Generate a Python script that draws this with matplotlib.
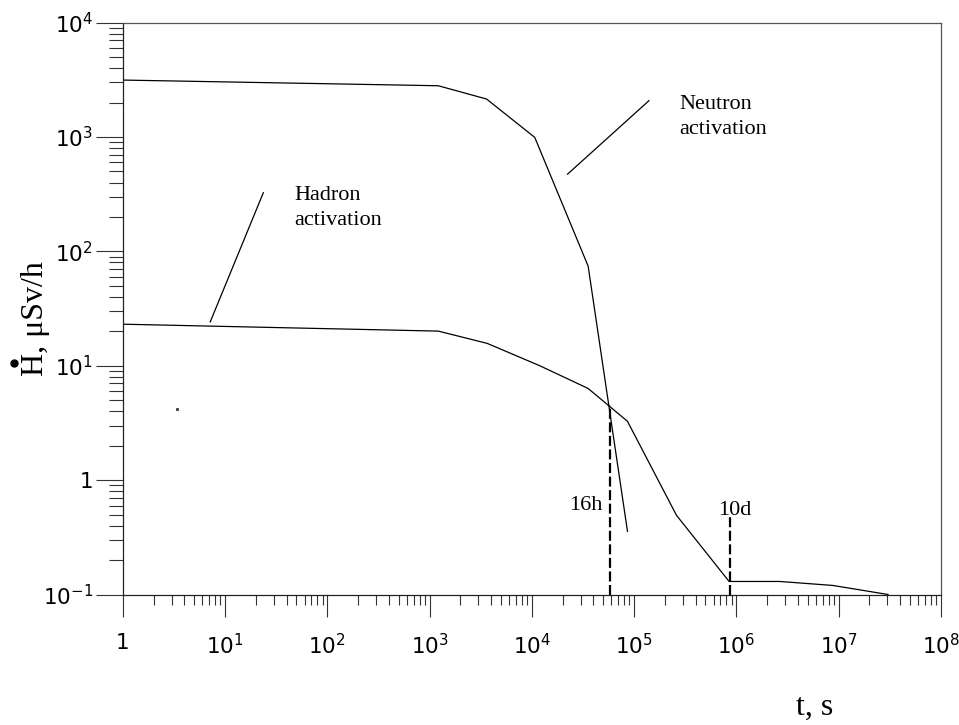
import matplotlib
matplotlib.use("Agg")
import matplotlib.pyplot as plt
from matplotlib.ticker import LogLocator, FixedLocator, FixedFormatter, NullFormatter

# neutron activation curve
t_neutron = [1, 1217, 3615, 10700, 35600, 86300]
h_neutron = [3150, 2810, 2150, 993, 74.3, 0.357]

# hadron activation curve
t_hadron = [1, 1217, 3665, 12000, 35600, 86300, 260000, 851000, 2660000, 8800000, 30500000]
h_hadron = [23.1, 20.1, 15.7, 10.0, 6.33, 3.27, 0.493, 0.130, 0.130, 0.120, 0.100]

# marker lines: 16 hours and 10 days
t_16h = 57600
h_16h_top = 4.52
t_10d = 864000
h_10d_top = 0.49

x_ticks = [1, 1e1, 1e2, 1e3, 1e4, 1e5, 1e6, 1e7, 1e8]
x_labels = ['1', '$\\mathregular{10^{1}}$', '$\\mathregular{10^{2}}$', '$\\mathregular{10^{3}}$',
            '$\\mathregular{10^{4}}$', '$\\mathregular{10^{5}}$', '$\\mathregular{10^{6}}$',
            '$\\mathregular{10^{7}}$', '$\\mathregular{10^{8}}$']
y_ticks = [1e-1, 1, 1e1, 1e2, 1e3, 1e4]
y_labels = ['$\\mathregular{10^{-1}}$', '1', '$\\mathregular{10^{1}}$', '$\\mathregular{10^{2}}$',
            '$\\mathregular{10^{3}}$', '$\\mathregular{10^{4}}$']

serif = ['Liberation Serif', 'DejaVu Serif']

fig = plt.figure(figsize=(9.59, 7.25), dpi=100)
ax = fig.add_axes([0.128, 0.180, 0.853, 0.7887])

ax.plot(t_neutron, h_neutron, color='black', lw=0.9)
ax.plot(t_hadron, h_hadron, color='black', lw=0.9)

dash = (0, (4.5, 1.6))
ax.plot([t_16h, t_16h], [0.1, h_16h_top], color='black', lw=1.6, linestyle=dash)
ax.plot([t_10d, t_10d], [0.1, h_10d_top], color='black', lw=1.6, linestyle=dash)

ax.text(48900, 0.604, '16h', family=serif, fontsize=16, ha='right', va='center')
ax.text(9.7e5, 0.545, '10d', family=serif, fontsize=16, ha='center', va='center')

# leader lines and labels
ax.plot([22400, 1.4e5], [474, 2080], color='black', lw=0.9)
ax.text(2.76e5, 1507, 'Neutron\nactivation', family=serif, fontsize=16,
        ha='left', va='center', linespacing=1.45)
ax.plot([7.17, 23.7], [24.2, 326], color='black', lw=0.9)
ax.text(47.6, 238, 'Hadron\nactivation', family=serif, fontsize=16,
        ha='left', va='center', linespacing=1.45)

# stray dot in the original
ax.plot([3.4], [4.17], marker='s', ms=1.2, color='#444444', lw=0)

ax.set_xscale('log')
ax.set_yscale('log')
ax.set_xlim(1, 1e8)
ax.set_ylim(0.1, 1e4)

ax.xaxis.set_major_locator(FixedLocator(x_ticks))
ax.xaxis.set_major_formatter(FixedFormatter(x_labels))
ax.xaxis.set_minor_locator(LogLocator(base=10, subs=range(2, 10), numticks=100))
ax.xaxis.set_minor_formatter(NullFormatter())
ax.yaxis.set_major_locator(FixedLocator(y_ticks))
ax.yaxis.set_major_formatter(FixedFormatter(y_labels))
ax.yaxis.set_minor_locator(LogLocator(base=10, subs=range(2, 10), numticks=100))
ax.yaxis.set_minor_formatter(NullFormatter())

ax.tick_params(axis='x', which='major', direction='out', length=16, width=0.8,
               labelsize=15.5, pad=12, color='#333333')
ax.tick_params(axis='x', which='minor', direction='out', length=7, width=0.8, color='#333333')
ax.tick_params(axis='y', which='major', direction='out', length=19.5, width=0.8,
               labelsize=15.5, pad=2, color='#333333')
ax.tick_params(axis='y', which='minor', direction='out', length=10, width=0.8, color='#333333')

for side in ['left', 'bottom']:
    ax.spines[side].set_color('#222222')
    ax.spines[side].set_linewidth(0.9)
for side in ['top', 'right']:
    ax.spines[side].set_color('#555555')
    ax.spines[side].set_linewidth(0.9)

# axis titles (H with a heavy dot above it, rotated)
fig.text(36 / 959, 1 - 319 / 725, 'H, \u03bcSv/h', family=serif, fontsize=23,
         rotation=90, ha='center', va='center')
fig.lines.append(plt.Line2D([14 / 959], [1 - 363 / 725], marker='o', ms=5,
                            color='black', transform=fig.transFigure))
fig.text(815 / 959, 1 - 707 / 725, 't, s', family=serif, fontsize=23,
         ha='center', va='center')

fig.savefig('out.png', dpi=100)
